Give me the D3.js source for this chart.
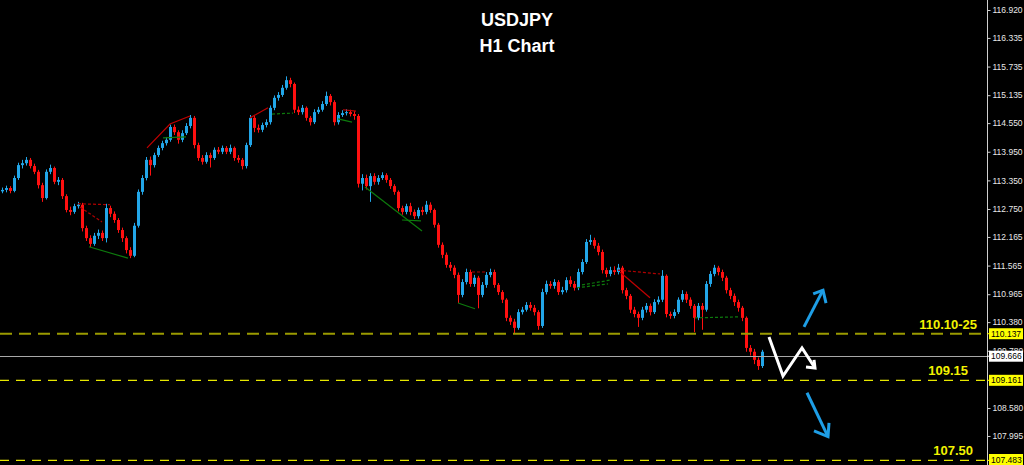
<!DOCTYPE html>
<html><head><meta charset="utf-8">
<script src="https://cdn.jsdelivr.net/npm/d3@7"></script>
<style>html,body{margin:0;padding:0;background:#000;}svg{display:block;}</style>
</head><body>
<svg id="chart" width="1024" height="465"></svg>
<script>
// ---- data (USDJPY H1) ----
const title = "USDJPY";
const subtitle = "H1 Chart";
const closes = [113.15,113.19,113.13,113.40,113.67,113.71,113.78,113.65,113.53,113.25,112.98,113.53,113.61,113.32,113.36,113.02,112.73,112.69,112.81,112.84,
112.35,112.14,112.02,112.19,112.25,112.14,112.77,112.65,112.52,112.31,112.14,111.89,111.77,112.40,113.11,113.40,113.78,113.67,113.88,114.03,
114.13,114.20,114.47,114.36,114.20,114.34,114.49,114.66,114.09,113.82,113.74,113.88,113.82,113.99,113.95,114.03,113.95,114.03,113.82,113.78,
113.65,114.09,114.66,114.45,114.41,114.51,114.57,114.87,115.08,115.14,115.29,115.45,115.37,114.83,114.78,114.87,114.66,114.57,114.78,114.83,
114.95,115.12,114.99,114.57,114.72,114.76,114.78,114.74,114.70,113.28,113.40,113.23,113.44,113.32,113.40,113.46,113.36,113.23,113.11,112.77,
112.69,112.81,112.69,112.60,112.73,112.69,112.84,112.73,112.42,112.00,111.79,111.58,111.52,111.37,110.95,111.22,111.43,111.18,111.31,110.95,
111.16,111.37,111.43,111.16,111.01,110.85,110.47,110.39,110.26,110.59,110.64,110.74,110.68,110.59,110.30,111.01,111.18,111.14,111.22,111.01,
111.05,111.26,111.18,111.10,111.43,111.64,112.06,112.10,111.98,111.85,111.47,111.39,111.47,111.43,111.52,111.05,110.93,110.64,110.55,110.47,
110.64,110.72,110.59,110.80,110.85,111.35,110.55,110.51,110.59,110.85,110.97,110.85,110.72,110.47,110.72,110.64,111.18,111.39,111.52,111.43,
111.31,111.05,110.93,110.80,110.68,110.47,109.84,109.76,109.59,109.46,109.76];
const firstOpen = 113.12;
const highs = [113.20,113.24,113.23,113.45,113.72,113.78,113.84,113.82,113.70,113.57,113.30,113.58,113.68,113.64,113.42,113.40,113.06,112.80,112.86,112.90,
112.88,112.40,112.20,112.25,112.32,112.30,112.86,112.82,112.70,112.56,112.36,112.18,111.95,112.46,113.16,113.46,113.84,113.85,113.93,114.08,
114.18,114.26,114.52,114.52,114.40,114.40,114.55,114.72,114.70,114.14,113.88,113.94,113.93,114.04,114.05,114.08,114.07,114.10,114.06,113.88,
113.82,114.14,114.72,114.70,114.52,114.56,114.63,114.92,115.13,115.20,115.35,115.53,115.50,115.40,114.90,114.93,114.90,114.70,114.84,114.89,
115.01,115.21,115.16,115.03,114.78,114.82,114.84,114.83,114.80,114.74,113.48,113.47,113.50,113.50,113.46,113.52,113.50,113.40,113.27,113.14,
112.82,112.86,112.88,112.74,112.78,112.80,112.92,112.89,112.76,112.46,112.05,111.84,111.64,111.57,111.42,111.28,111.50,111.48,111.37,111.35,
111.22,111.43,111.50,111.48,111.20,111.05,110.88,110.52,110.45,110.65,110.70,110.80,110.80,110.74,110.63,111.08,111.25,111.24,111.28,111.26,
111.12,111.32,111.34,111.24,111.50,111.70,112.12,112.21,112.15,112.04,111.90,111.52,111.54,111.55,111.60,111.56,111.10,110.97,110.70,110.60,
110.70,110.78,110.77,110.86,110.92,111.47,111.38,110.60,110.65,110.90,111.05,111.02,110.90,110.76,110.78,110.78,111.24,111.45,111.58,111.56,
111.48,111.35,111.10,110.98,110.85,110.72,110.50,109.90,109.82,109.64,109.80];
const lows = [113.08,113.10,113.08,113.10,113.36,113.60,113.66,113.60,113.48,113.18,112.90,112.95,113.48,113.27,113.25,112.96,112.68,112.62,112.65,112.76,
112.28,112.08,111.95,111.98,112.12,112.08,112.05,112.58,112.46,112.25,112.06,111.82,111.72,111.74,112.36,113.05,113.35,113.45,113.62,113.84,
113.98,114.08,114.16,114.30,114.12,114.15,114.30,114.44,114.02,113.76,113.68,113.70,113.62,113.78,113.90,113.90,113.90,113.90,113.76,113.72,
113.58,113.60,114.05,114.36,114.35,114.36,114.46,114.52,114.82,115.02,115.10,115.25,115.30,114.76,114.72,114.73,114.60,114.50,114.53,114.74,
114.79,114.91,114.92,114.50,114.52,114.68,114.71,114.69,114.62,113.20,113.14,113.16,112.90,113.26,113.26,113.36,113.30,113.17,113.05,112.70,
112.63,112.64,112.62,112.54,112.55,112.62,112.64,112.67,112.36,111.94,111.72,111.52,111.45,111.30,110.78,110.90,111.17,111.12,111.12,110.67,
110.90,111.10,111.32,111.10,110.95,110.78,110.40,110.32,110.15,110.22,110.54,110.60,110.62,110.52,110.22,110.26,110.96,111.08,111.08,110.95,
110.96,111.00,111.12,111.04,111.05,111.38,111.60,112.00,111.92,111.78,111.40,111.32,111.34,111.37,111.38,110.98,110.86,110.57,110.48,110.28,
110.42,110.58,110.52,110.55,110.75,110.80,110.48,110.45,110.46,110.55,110.80,110.78,110.66,110.17,110.42,110.22,110.60,111.12,111.34,111.36,
111.24,110.98,110.86,110.72,110.60,110.40,109.76,109.68,109.50,109.38,109.42];
const axisTicks = [116.920,116.335,115.735,115.135,114.550,113.950,113.350,112.750,112.165,111.565,110.965,110.380,109.780,108.580,107.995];
const levelDashed = [110.137, 109.161, 107.483];
const levelText = ["110.10-25", "109.15", "107.50"];
const currentPrice = 109.666;
// pattern lines [index, price] pairs
const redDashed = [[[19,112.86],[27,112.84]],[[19.5,112.79],[25,112.48]],[[117.5,111.43],[120.75,111.43]],[[154,111.47],[164.5,111.39]]];
const redSolid = [[[36.25,114.03],[42,114.53],[47,114.70]],[[62,114.66],[66.5,114.87]],[[85.25,114.83],[88.5,114.80]],[[154.5,111.43],[162,110.89]]];
const greenSolid = [[[21.75,111.96],[31.5,111.72]],[[40.25,114.24],[46,114.26]],[[84,114.64],[87.5,114.57]],[[90.75,113.21],[105,112.29]],[[100,112.52],[104.75,112.50]],[[114,110.78],[118.25,110.66]]];
const greenDashed = [[[67.5,114.74],[72.75,114.76]],[[143.75,111.10],[151.5,111.18]],[[145,111.16],[152,111.26]],[[173.25,110.47],[184,110.49]]];
// scenario arrows [index, price]
const upArrow = [[200.5,110.28],[205.25,111.05]];
const upWings = [[202.8,110.97],[206,110.78]];
const downArrow = [[201.25,108.90],[206.5,107.98]];
const downWings = [[203,108.10],[206.75,108.27]];
const zigzag = [[191.75,110.07],[195.25,109.25],[200,109.84],[203.25,109.42]];
const zigWings = [[201,109.44],[203,109.59]];

// ---- drawing ----
const svg = d3.select("#chart");
const W = 1024, H = 465, axisX = 987;
const x = d3.scaleLinear().domain([0, 190]).range([2, 762]);
const y = d3.scaleLinear().domain([107.483, 116.92]).range([460.4, 10]);
svg.append("rect").attr("width", W).attr("height", H).attr("fill", "#000");

const bull = "#22a6e8", bear = "#ff1010";
const candles = closes.map((c, i) => ({i, o: i ? closes[i-1] : firstOpen, c, h: highs[i], l: lows[i]}));
const g = svg.append("g");
g.selectAll("line.w").data(candles).join("line")
  .attr("x1", d => Math.round(x(d.i)) + 0.5).attr("x2", d => Math.round(x(d.i)) + 0.5)
  .attr("y1", d => y(d.h)).attr("y2", d => y(d.l))
  .attr("stroke", d => d.c >= d.o ? bull : bear).attr("stroke-width", 1);
g.selectAll("rect.b").data(candles).join("rect")
  .attr("x", d => Math.round(x(d.i)) - 1).attr("width", 3)
  .attr("y", d => y(Math.max(d.o, d.c)))
  .attr("height", d => Math.max(1, Math.abs(y(d.o) - y(d.c))))
  .attr("fill", d => d.c >= d.o ? bull : bear);

const line = d3.line().x(d => x(d[0])).y(d => y(d[1]));
function drawSet(set, color, dash, w) {
  svg.append("g").selectAll("path").data(set).join("path")
    .attr("d", line).attr("fill", "none").attr("stroke", color)
    .attr("stroke-width", w).attr("stroke-dasharray", dash);
}
drawSet(redDashed, "#b00000", "3,2", 1.2);
drawSet(redSolid, "#c00000", null, 1.2);
drawSet(greenSolid, "#0d7a0d", null, 1.2);
drawSet(greenDashed, "#0d7a0d", "3,2", 1.2);

// levels
svg.append("line").attr("x1", 0).attr("x2", axisX).attr("y1", Math.round(y(currentPrice)) + 0.5).attr("y2", Math.round(y(currentPrice)) + 0.5)
  .attr("stroke", "#a8a8a8").attr("stroke-width", 1);
const lvlStyle = [{c: "#9a9a00", w: 2, d: "12,7", tx: 977}, {c: "#e8e800", w: 1.3, d: "9,7", tx: 968}, {c: "#e8e800", w: 1.3, d: "9,7", tx: 973}];
levelDashed.forEach((lv, k) => {
  svg.append("line").attr("x1", 0).attr("x2", axisX).attr("y1", y(lv)).attr("y2", y(lv))
    .attr("stroke", lvlStyle[k].c).attr("stroke-width", lvlStyle[k].w).attr("stroke-dasharray", lvlStyle[k].d);
  svg.append("text").attr("x", lvlStyle[k].tx).attr("y", y(lv) - 5).attr("text-anchor", "end")
    .attr("font-family", "Liberation Sans, Arial, sans-serif").attr("font-weight", "bold").attr("font-size", 13)
    .attr("fill", "#f2f200").text(levelText[k]);
});

// arrows
function poly(pts, color) {
  svg.append("path").attr("d", line(pts)).attr("fill", "none").attr("stroke", color)
    .attr("stroke-width", 3).attr("stroke-linejoin", "miter").attr("stroke-linecap", "butt");
}
const blue = "#1e9ee6";
poly(upArrow, blue); poly([upWings[0], upArrow[1], upWings[1]], blue);
poly(downArrow, blue); poly([downWings[0], downArrow[1], downWings[1]], blue);
poly(zigzag, "#ffffff"); poly([zigWings[0], zigzag[3], zigWings[1]], "#ffffff");

// title
svg.append("text").attr("x", 517).attr("y", 26).attr("text-anchor", "middle")
  .attr("font-family", "Liberation Sans, Arial, sans-serif").attr("font-weight", "bold").attr("font-size", 18)
  .attr("fill", "#fff").text(title);
svg.append("text").attr("x", 517).attr("y", 52).attr("text-anchor", "middle")
  .attr("font-family", "Liberation Sans, Arial, sans-serif").attr("font-weight", "bold").attr("font-size", 18)
  .attr("fill", "#fff").text(subtitle);

// right axis
const ax = svg.append("g").attr("transform", `translate(${axisX + 0.5},0)`)
  .call(d3.axisRight(y).tickValues(axisTicks).tickFormat(d3.format(".3f")).tickSize(3).tickPadding(2));
ax.select(".domain").attr("stroke", "#d0d0d0").attr("d", `M0,0V${H}`);
ax.selectAll(".tick line").attr("stroke", "#d0d0d0");
ax.selectAll(".tick text").attr("fill", "#e8e8e8").attr("font-family", "Liberation Sans, Arial, sans-serif").attr("font-size", 8.5);

// price boxes
const boxes = [{v: levelDashed[0], bg: "#ffff00"}, {v: currentPrice, bg: "#ffffff"}, {v: levelDashed[1], bg: "#ffff00"}, {v: levelDashed[2], bg: "#ffff00"}];
boxes.forEach(b => {
  const yy = y(b.v);
  svg.append("line").attr("x1", axisX).attr("x2", axisX + 3).attr("y1", yy).attr("y2", yy).attr("stroke", b.bg);
  svg.append("rect").attr("x", axisX + 2).attr("y", Math.min(yy - 5.5, H - 11)).attr("width", 34).attr("height", 11).attr("fill", b.bg);
  svg.append("text").attr("x", axisX + 4).attr("y", Math.min(yy + 3, H - 2.5)).attr("font-family", "Liberation Sans, Arial, sans-serif")
    .attr("font-size", 8.5).attr("fill", "#000").text(d3.format(".3f")(b.v));
});
</script>
</body></html>
